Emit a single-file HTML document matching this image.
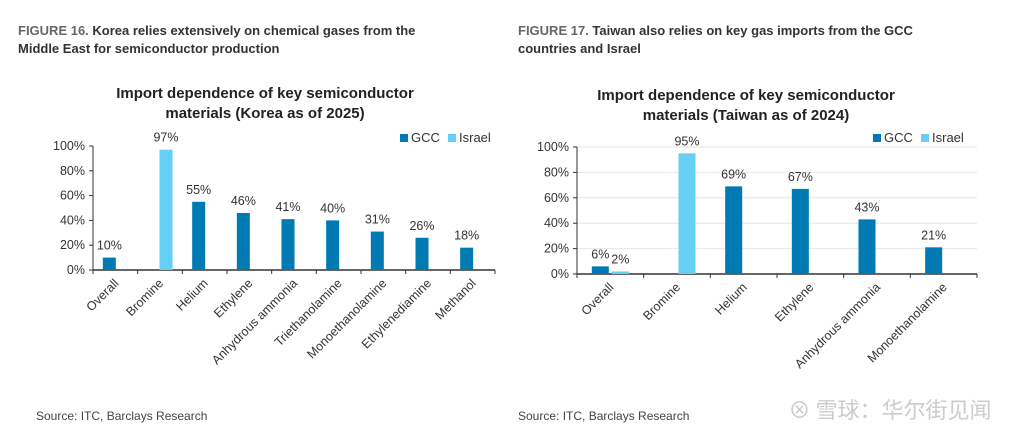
<!DOCTYPE html>
<html><head><meta charset="utf-8"><style>
body{margin:0;width:1024px;height:444px;background:#fff;overflow:hidden;font-family:"Liberation Sans","Noto Sans CJK SC",sans-serif;}
.h{position:absolute;font-size:13px;font-weight:bold;color:#333;line-height:18px}
.h span{color:#666}
.src{position:absolute;font-size:12px;color:#444;top:409px}
svg{position:absolute;left:0;top:0}
</style></head><body>
<div class="h" style="left:18px;top:22px;width:440px"><span>FIGURE 16.</span> Korea relies extensively on chemical gases from the Middle East for semiconductor production</div>
<div class="h" style="left:518px;top:22px;width:420px"><span>FIGURE 17.</span> Taiwan also relies on key gas imports from the GCC countries and Israel</div>
<div class="src" style="left:36px">Source: ITC, Barclays Research</div>
<div class="src" style="left:518px">Source: ITC, Barclays Research</div>
<svg width="1024" height="444" id="s" font-family="Liberation Sans, sans-serif">
<text x="890" y="418" font-size="22" fill="#ccc" font-family="Noto Sans CJK SC, sans-serif" text-anchor="middle">⊗ 雪球：华尔街见闻</text>
</svg>
<script>
const catsK=["Overall","Bromine","Helium","Ethylene","Anhydrous ammonia","Triethanolamine","Monoethanolamine","Ethylenediamine","Methanol"];
const gccK=[10,null,55,46,41,40,31,26,18];
const isrK=[null,97,null,null,null,null,null,null,null];
const catsT=["Overall","Bromine","Helium","Ethylene","Anhydrous ammonia","Monoethanolamine"];
const gccT=[6,null,69,67,43,21];
const isrT=[2,95,null,null,null,null];
const ticks=[0,20,40,60,80,100];
const NS="http://www.w3.org/2000/svg",svg=document.getElementById('s');
function mk(t,a,txt){const e=document.createElementNS(NS,t);for(const k in a)e.setAttribute(k,a[k]);if(txt!=null)e.textContent=txt;svg.appendChild(e);return e;}
function chart(o){
 const x0=o.x0,x1=o.x1,y0=o.y0,y1=o.y1,n=o.cats.length,w=(x1-x0)/n;
 const y=v=>y0-(v/100)*(y0-y1);
 let t=mk('text',{x:o.tx,y:o.ty,'font-size':15,'font-weight':'bold','fill':'#222','text-anchor':'middle'},o.t1);
 
 t=mk('text',{x:o.tx,y:o.ty+20,'font-size':15,'font-weight':'bold','fill':'#222','text-anchor':'middle'},o.t2);
 
 ticks.forEach(v=>{
  if(o.grid&&v>0){const g=mk('line',{x1:x0,x2:x1,y1:y(v),y2:y(v),stroke:'#e6e6e6','stroke-width':1});}
  const l=mk('text',{x:x0-8,y:y(v)+4,'font-size':12.5,fill:'#333','text-anchor':'end'},v+'%');
  
  const tk=mk('line',{x1:x0-4,x2:x0,y1:y(v),y2:y(v),stroke:'#333'});
 });
 let a=mk('line',{x1:x0,x2:x0,y1:y1,y2:y0,stroke:'#333'});
 a=mk('line',{x1:x0,x2:x1,y1:y0,y2:y0,stroke:'#333','stroke-width':1.5});
 for(let i=0;i<=n;i++){const tk=mk('line',{x1:x0+i*w,x2:x0+i*w,y1:y0,y2:y0+4,stroke:'#333'});}
 o.cats.forEach((c,i)=>{
  const cx=x0+(i+0.5)*w;
  [[o.gcc,-o.off,'#007ab3','gcc'],[o.isr,o.off,'#66cff5','israel']].forEach(([arr,dx,col,nm])=>{
   const v=arr[i];if(v==null)return;
   const b=mk('rect',{x:cx+dx-o.bw/2,y:y(v),width:o.bw,height:y0-y(v),fill:col});
   
   const l=mk('text',{x:cx+dx,y:y(v)-8,'font-size':12.5,fill:'#333','text-anchor':'middle'},v+'%');
   
  });
  const l=mk('text',{x:cx+4,y:y0+14,'font-size':12.5,fill:'#333','text-anchor':'end',transform:`rotate(-45 ${cx+4} ${y0+14})`},c);
  
 });
 const lx=o.lx,ly=134;
 let r=mk('rect',{x:lx,y:ly,width:8,height:8,fill:'#007ab3'});
 t=mk('text',{x:lx+11,y:ly+8,'font-size':13,fill:'#333'},'GCC');
 r=mk('rect',{x:lx+48,y:ly,width:8,height:8,fill:'#66cff5'});
 t=mk('text',{x:lx+59,y:ly+8,'font-size':13,fill:'#333'},'Israel');
}
chart({cats:catsK,gcc:gccK,isr:isrK,x0:93,x1:495,y0:270,y1:146,bw:13,off:6,tx:265,ty:98,t1:'Import dependence of key semiconductor',t2:'materials (Korea as of 2025)',lx:400,grid:false});
chart({cats:catsT,gcc:gccT,isr:isrT,x0:577,x1:977,y0:274,y1:147,bw:17,off:10,tx:746,ty:100,t1:'Import dependence of key semiconductor',t2:'materials (Taiwan as of 2024)',lx:873,grid:true});
</script>
</body></html>
